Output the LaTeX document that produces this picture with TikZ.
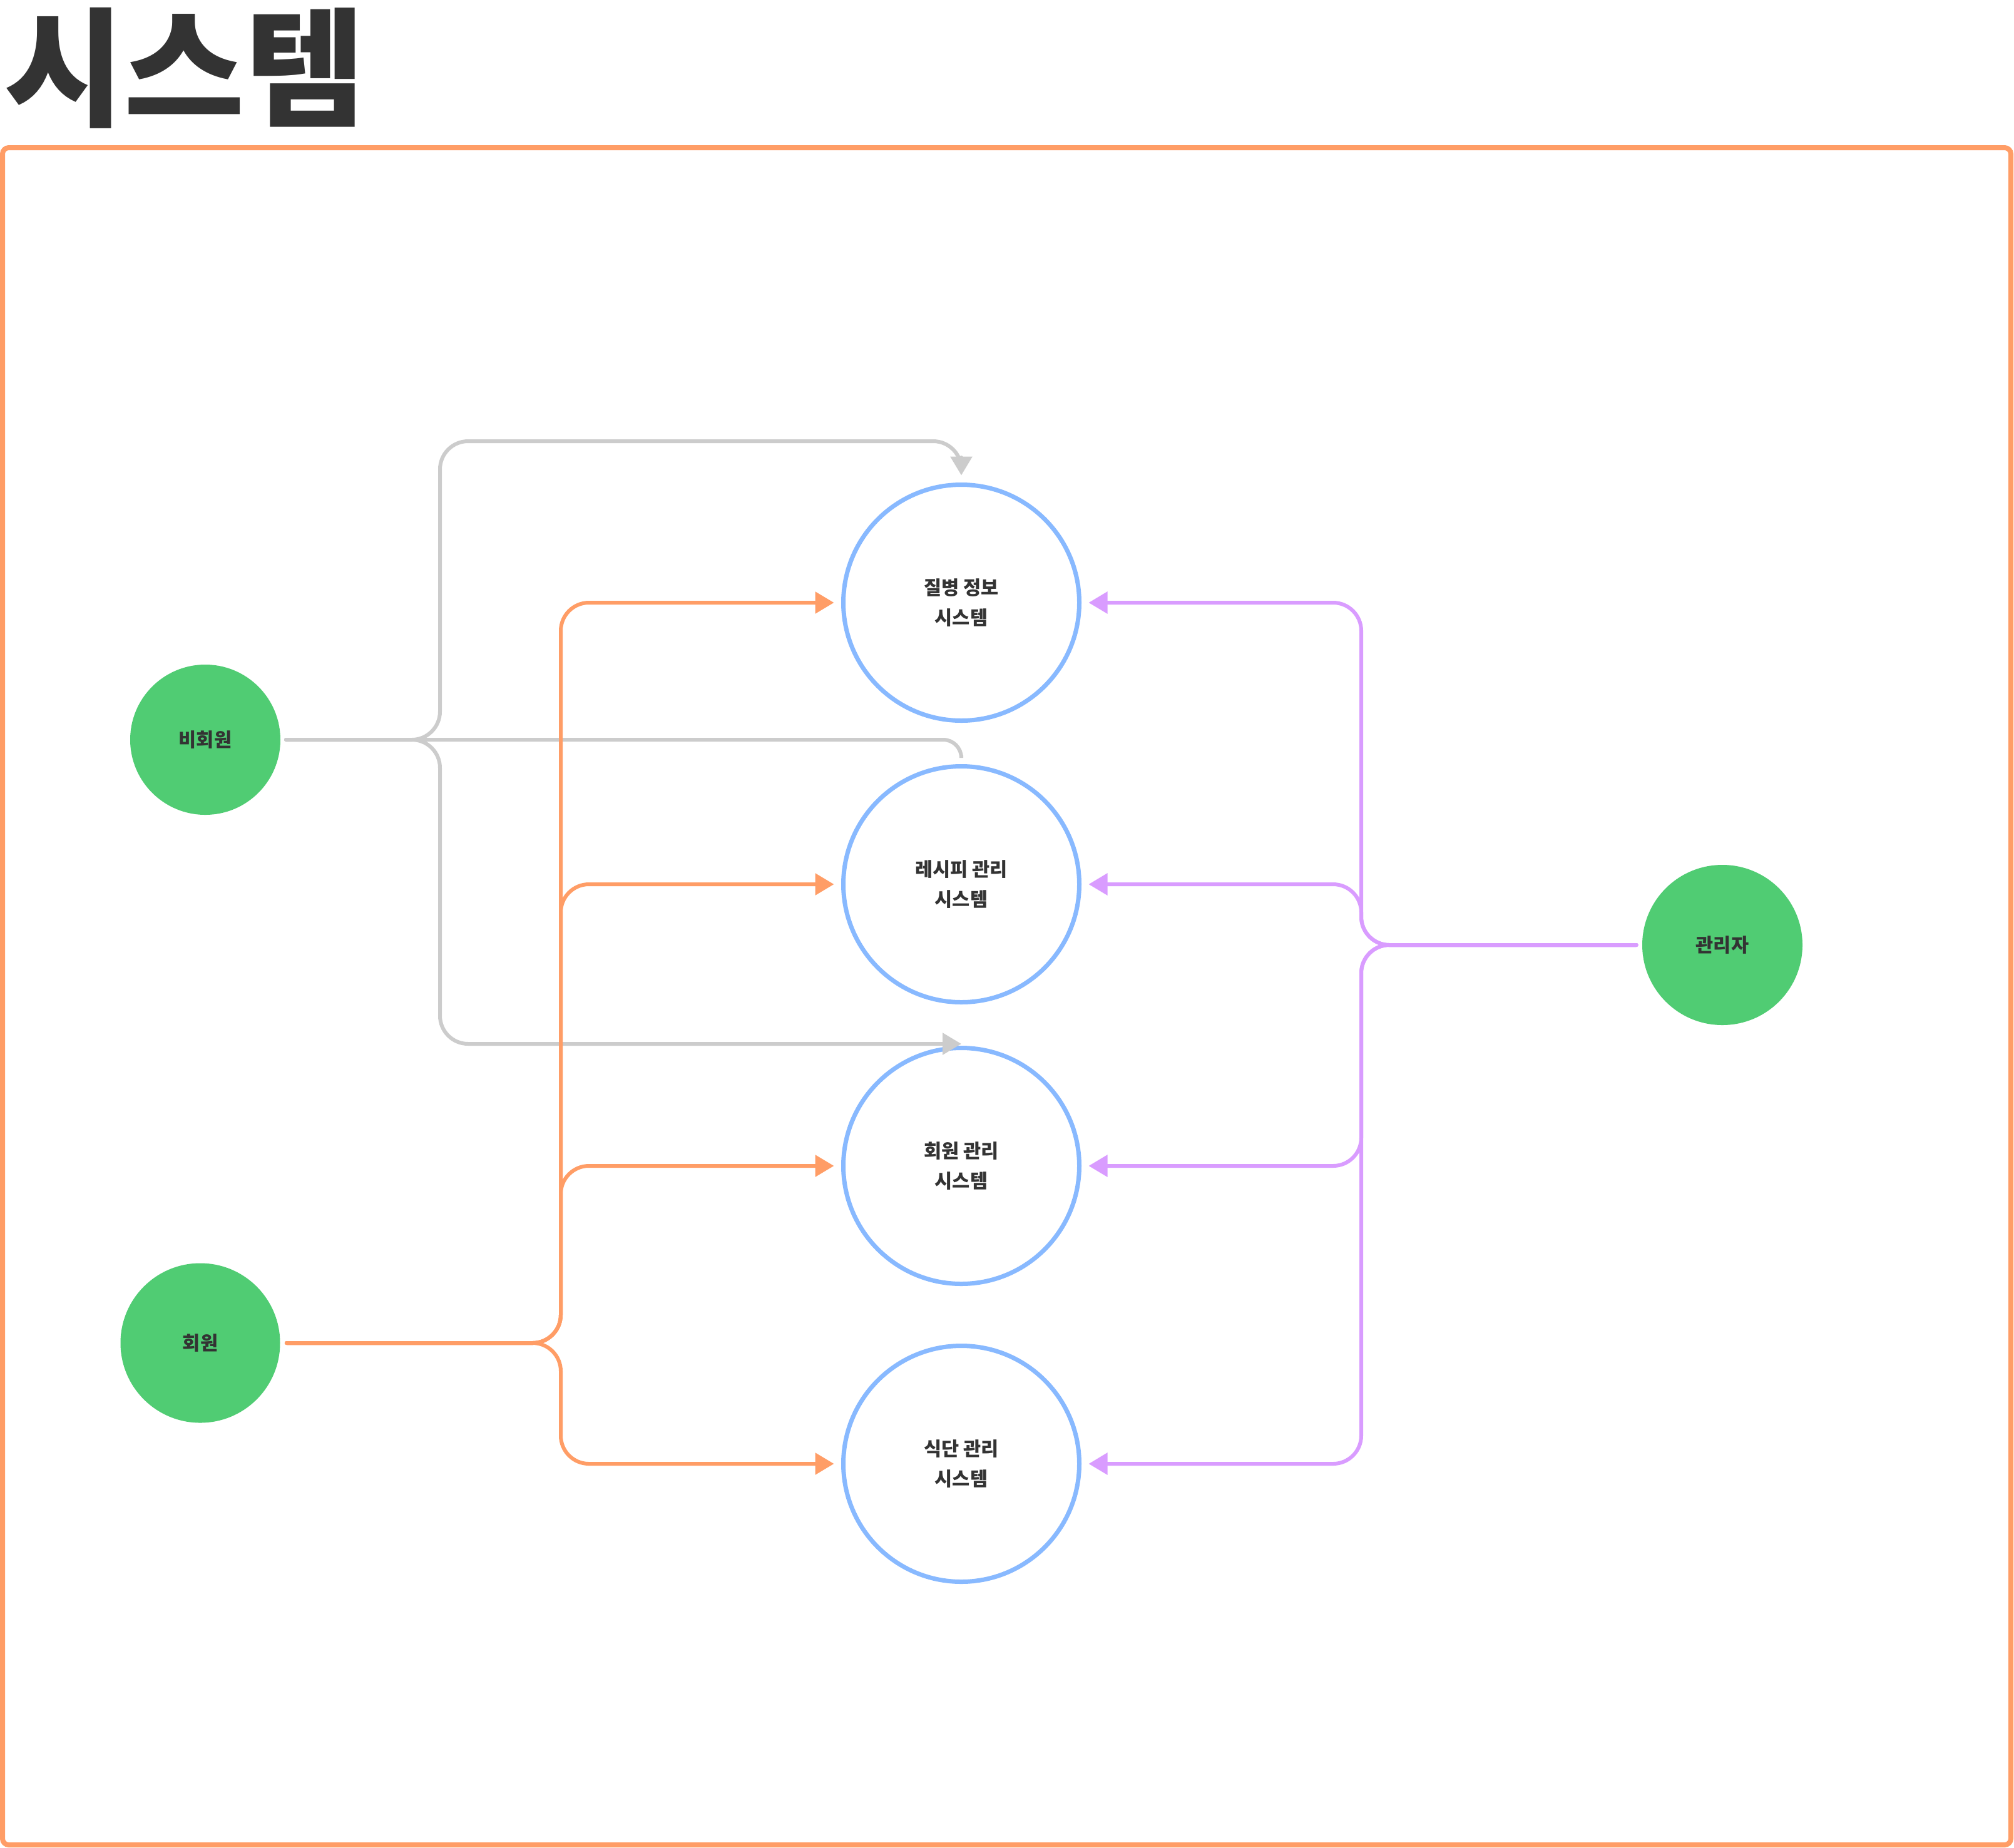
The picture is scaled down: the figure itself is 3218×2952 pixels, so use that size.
\documentclass[tikz,border=0pt]{standalone}
\usepackage{fontspec}
\newfontfamily\kr{Noto Sans CJK KR}
\usetikzlibrary{arrows.meta}
\definecolor{ink}{HTML}{333333}
\definecolor{sysblue}{HTML}{88B9FF}
\definecolor{actgreen}{HTML}{50CC73}
\definecolor{grayline}{HTML}{CCCCCC}
\definecolor{orangeline}{HTML}{FF9D66}
\definecolor{purpleline}{HTML}{D99CFF}
\begin{document}
\begin{tikzpicture}[x=0.5pt,y=-0.5pt,
  sys/.style={circle,draw=sysblue,line width=3.5pt,minimum size=188.5pt,inner sep=0pt,
    font=\kr\bfseries\fontsize{15.3pt}{24pt}\selectfont,text=ink,align=center},
  actor/.style={circle,fill=actgreen,inner sep=0pt,
    font=\kr\bfseries\fontsize{15.3pt}{17pt}\selectfont,text=ink},
  conn/.style={line width=3pt,line cap=round,rounded corners=22.5pt},
  tip/.style={-{Triangle[length=15pt,width=17pt]}},
]
\useasboundingbox (0,0) rectangle (3218,2952);
\fill[white] (0,0) rectangle (3218,2952);
% title
\node[anchor=base west,inner sep=0pt,xscale=1.02,font=\kr\bfseries\fontsize{102.5pt}{110pt}\selectfont,text=ink] (title) at (6,185) {시스템};
% frame
\draw[orangeline,line width=4pt,rounded corners=5pt] (4,236) rectangle (3213,2948);
% systems
\node[sys] (s1) at (1536,963) {질병 정보\\시스템};
\node[sys] (s2) at (1536,1413) {레시피 관리\\시스템};
\node[sys] (s3) at (1536,1863) {회원 관리\\시스템};
\node[sys] (s4) at (1536,2339) {식단 관리\\시스템};
% actors
\node[actor,minimum size=120pt] (guest) at (328,1182) {비회원};
\node[actor,minimum size=127.5pt] (member) at (320,2146) {회원};
\node[actor,minimum size=128pt] (admin) at (2752,1510) {관리자};
% bus coordinates
\coordinate (gbus) at (703,705);
\coordinate (obus) at (896,0);
\coordinate (pbus) at (2175,0);
\coordinate (gs) at ([xshift=4.3pt]guest.east);
\coordinate (os) at ([xshift=5pt]member.east);
\coordinate (ps) at ([xshift=-4.5pt]admin.west);
\coordinate (g1) at ([yshift=5.75pt]s1.north);
\coordinate (g2) at ([yshift=7pt]s2.north);
\coordinate (g3) at ([yshift=1.5pt]s3.north);
% gray connectors (guest)
\draw[conn,grayline,tip] (gs) -| (gbus) -| (g1);
\draw[conn,grayline,rounded corners=14.5pt] (gs) -| (g2);
\draw[conn,grayline,tip] (gs) -| (gbus |- g3) -- (g3);
% orange connectors (member)
\foreach \s in {s1,s2,s3,s4}{
  \draw[conn,orangeline,tip] (os) -| (obus |- \s) -- ([xshift=-5.75pt]\s.west);
}
% purple connectors (admin)
\foreach \s in {s1,s2,s3,s4}{
  \draw[conn,purpleline,tip] (ps) -| (pbus |- \s) -- ([xshift=5.75pt]\s.east);
}
\end{tikzpicture}
\end{document}
